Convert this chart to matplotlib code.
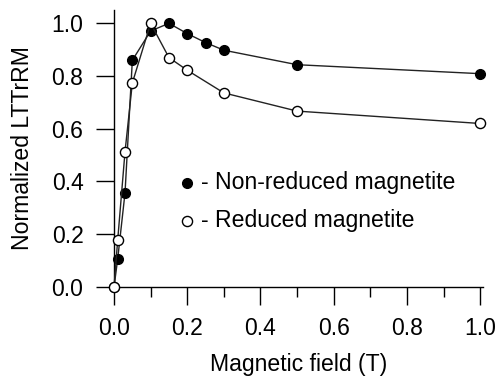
import matplotlib
matplotlib.use("Agg")
from matplotlib import pyplot as plt
from matplotlib.ticker import MultipleLocator

plt.rcParams['font.family'] = ['Liberation Sans', 'DejaVu Sans']

# 磁場 (T)
field_nonred = [0.0, 0.01, 0.03, 0.05, 0.1, 0.15, 0.2, 0.25, 0.3, 0.5, 1.0]
lttrrm_nonred = [0.0, 0.106, 0.357, 0.86, 0.971, 1.0, 0.961, 0.927, 0.898, 0.843, 0.809]

field_red = [0.0, 0.01, 0.03, 0.05, 0.1, 0.15, 0.2, 0.3, 0.5, 1.0]
lttrrm_red = [0.0, 0.178, 0.513, 0.774, 1.0, 0.87, 0.822, 0.736, 0.667, 0.62]

label_nonred = "- Non-reduced magnetite"
label_red = "- Reduced magnetite"

fig = plt.figure(figsize=(4.98, 3.76), dpi=100)
ax = fig.add_axes([0.229, 0.237, 0.741, 0.736])

ax.plot(field_nonred, lttrrm_nonred, color="#222222", lw=1.0, marker="o", ms=7,
        mfc="black", mec="black", zorder=3, clip_on=False)
ax.plot(field_red, lttrrm_red, color="#222222", lw=1.0, marker="o", ms=7.3,
        mfc="white", mec="black", mew=1.0, zorder=4, clip_on=False)

# 凡例は手書き風に
ax.plot([0.2], [0.395], marker="o", ms=7, mfc="black", mec="black", ls="none")
ax.plot([0.2], [0.25], marker="o", ms=7.3, mfc="white", mec="black", ls="none")
ax.text(0.238, 0.395, label_nonred, fontsize=16.6, va="center", ha="left")
ax.text(0.238, 0.25, label_red, fontsize=16.6, va="center", ha="left")

ax.set_xlim(0, 1.008)
ax.set_ylim(0, 1.05)
ax.xaxis.set_major_locator(MultipleLocator(0.2))
ax.xaxis.set_minor_locator(MultipleLocator(0.1))
ax.yaxis.set_major_locator(MultipleLocator(0.2))
ax.spines['top'].set_visible(False)
ax.spines['right'].set_visible(False)
for s in ['left', 'bottom']:
    ax.spines[s].set_linewidth(1.0)
ax.tick_params(which='major', direction='out', length=13, width=1.0, labelsize=16.5, pad=9)
ax.tick_params(which='minor', direction='out', length=7, width=1.0)

ax.set_xlabel("Magnetic field (T)", fontsize=16.6, labelpad=9)
ax.set_ylabel("Normalized LTTrRM", fontsize=16.6, labelpad=13)

fig.savefig("out.png", dpi=100)
